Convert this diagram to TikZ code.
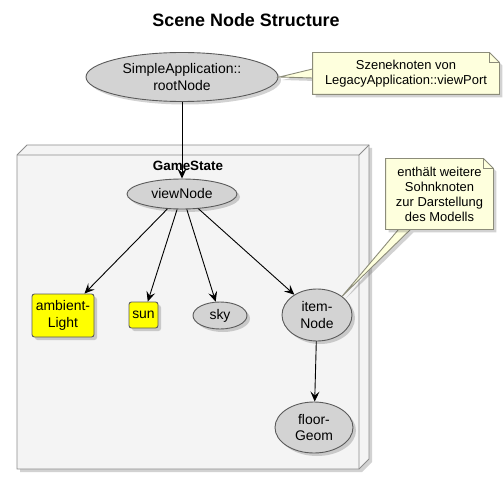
\documentclass[tikz,border=0pt]{standalone}
\usepackage{fontspec}
\setmainfont{Liberation Sans}
\usetikzlibrary{positioning,shapes.geometric,shadows,arrows.meta}

\definecolor{caseFill}{HTML}{D3D3D3}
\definecolor{caseLine}{HTML}{5A5A5A}
\definecolor{noteFill}{HTML}{FEFFDD}
\definecolor{noteLine}{HTML}{8C8C7A}
\definecolor{frameFill}{HTML}{F4F4F4}
\definecolor{frameLine}{HTML}{8C8C8C}
\definecolor{lightFill}{HTML}{FFFF00}

\tikzset{
  shadowed/.style={drop shadow={shadow xshift=3bp,shadow yshift=-3bp,opacity=0.25,fill=black!70}},
  usecase/.style={ellipse,draw=caseLine,fill=caseFill,shadowed,inner sep=0pt,align=center,
    font=\fontsize{14}{16.5}\selectfont},
  lightbox/.style={rectangle,rounded corners=2.5bp,draw=caseLine,fill=lightFill,shadowed,
    inner sep=0pt,align=center,font=\fontsize{14}{16.5}\selectfont},
  notetext/.style={inner sep=0pt,align=center,font=\fontsize{13}{15}\selectfont},
  notefill/.style={fill=noteFill,draw=noteLine,shadowed}
}

\begin{document}
\begin{tikzpicture}[x=1bp,y=-1bp,line width=0.9bp,>={Stealth[length=10bp,width=9bp,inset=4bp]}]
  \useasboundingbox (0,0) rectangle (504,485);
  \node [font=\fontsize{18}{20}\selectfont\bfseries] (title) at (246,20) {Scene Node Structure};

  \coordinate (frameNW) at (17,155);
  \coordinate (frameSE) at (359,469);
  \fill [frameFill,draw=frameLine,shadowed] (frameNW) -- ++(10,-10) -- ++(342,0) -- ++(0,314)
    -- (frameSE) -- (frameNW |- frameSE) -- cycle;
  \draw [frameLine] (frameNW) -- (frameSE |- frameNW) -- (frameSE)
    (frameSE |- frameNW) -- ++(10,-10);
  \node [font=\fontsize{13.5}{16}\selectfont\bfseries] (gameState) at (188,166) {GameState};

  \node [usecase,minimum width=192bp,minimum height=49bp] (rootNode) at (182,77) {SimpleApplication::\\rootNode};
  \node [usecase,minimum width=110bp,minimum height=30bp] (viewNode) at (182,194) {viewNode};
  \node [lightbox,minimum width=62bp,minimum height=43bp] (ambientLight) at (63,315.5) {ambient-\\Light};
  \node [lightbox,minimum width=29bp,minimum height=26bp] (sun) at (143.5,315) {sun};
  \node [usecase,minimum width=54bp,minimum height=27bp] (sky) at (220,315.5) {sky};
  \node [usecase,minimum width=70bp,minimum height=52bp] (itemNode) at (317,315) {item-\\Node};
  \node [usecase,minimum width=78bp,minimum height=51bp] (floorGeom) at (314,427.5) {floor-\\Geom};

  \node [minimum width=186bp,minimum height=41bp] (viewPortNote) at (406,73.5) {};
  \node [minimum width=107bp,minimum height=70bp] (modelNote) at (439.5,194) {};

  \filldraw [notefill] ([xshift=1bp]rootNode.east) -- ([yshift=4.5bp]viewPortNote.west)
    -- ([yshift=-4.5bp]viewPortNote.west) -- cycle;
  \filldraw [notefill] (viewPortNote.north west) -- ([xshift=-10bp]viewPortNote.north east)
    -- ([yshift=-10bp]viewPortNote.north east) -- (viewPortNote.south east)
    -- (viewPortNote.south west) -- cycle;
  \draw [noteLine] ([xshift=-10bp]viewPortNote.north east) |- ([yshift=-10bp]viewPortNote.north east);
  \node [notetext] (viewPortText) at (viewPortNote) {Szeneknoten von\\LegacyApplication::viewPort};

  \filldraw [notefill] (itemNode.north east) -- ([xshift=-41bp]modelNote.south)
    -- ([xshift=-29bp]modelNote.south) -- cycle;
  \filldraw [notefill] (modelNote.north west) -- ([xshift=-10bp]modelNote.north east)
    -- ([yshift=-10bp]modelNote.north east) -- (modelNote.south east)
    -- (modelNote.south west) -- cycle;
  \draw [noteLine] ([xshift=-10bp]modelNote.north east) |- ([yshift=-10bp]modelNote.north east);
  \node [notetext] (modelText) at (modelNote) {enthält weitere\\Sohnknoten\\zur Darstellung\\des Modells};

  \path[->]
  (rootNode) edge (viewNode)
  (viewNode) edge (ambientLight)
  (viewNode) edge (sun)
  (viewNode) edge (sky)
  (viewNode) edge (itemNode)
  (itemNode) edge (floorGeom);
\end{tikzpicture}
\end{document}
